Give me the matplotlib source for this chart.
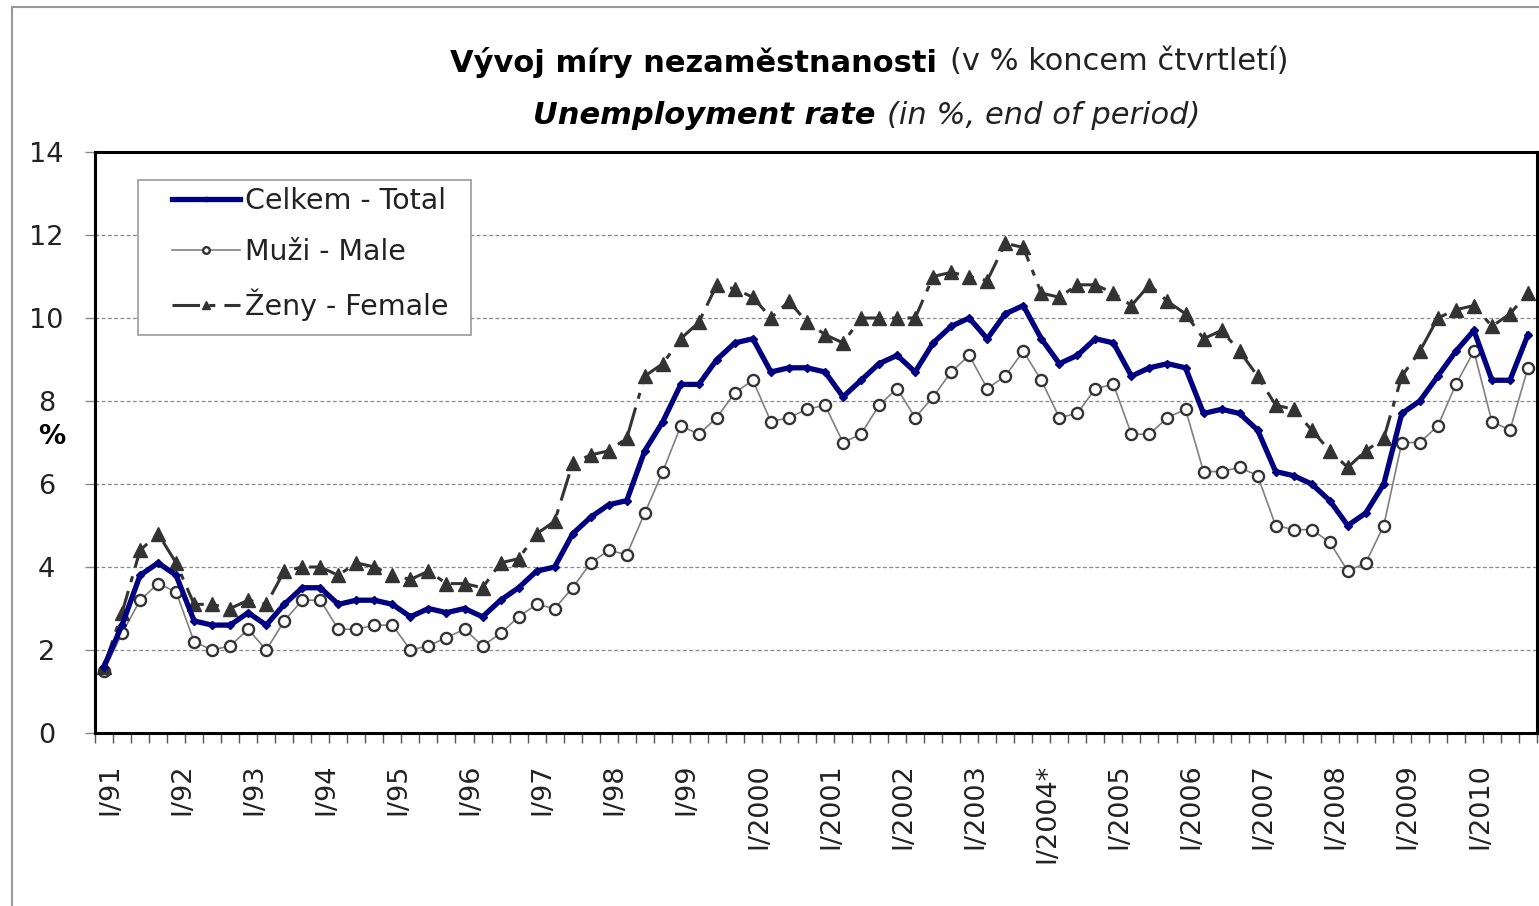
import matplotlib
matplotlib.use("Agg")
import matplotlib.pyplot as plt
from matplotlib.patches import Rectangle
from matplotlib.transforms import ScaledTranslation
import numpy as np

# ctvrtletni data I/91 - IV/2010 (konec obdobi)
years = ["91", "92", "93", "94", "95", "96", "97", "98", "99", "2000",
         "2001", "2002", "2003", "2004*", "2005", "2006", "2007", "2008",
         "2009", "2010"]
quarters = ["I", "II", "III", "IV"]

celkem = [1.6, 2.6, 3.8, 4.1, 3.8, 2.7, 2.6, 2.6, 2.9, 2.6,
          3.1, 3.5, 3.5, 3.1, 3.2, 3.2, 3.1, 2.8, 3.0, 2.9,
          3.0, 2.8, 3.2, 3.5, 3.9, 4.0, 4.8, 5.2, 5.5, 5.6,
          6.8, 7.5, 8.4, 8.4, 9.0, 9.4, 9.5, 8.7, 8.8, 8.8,
          8.7, 8.1, 8.5, 8.9, 9.1, 8.7, 9.4, 9.8, 10.0, 9.5,
          10.1, 10.3, 9.5, 8.9, 9.1, 9.5, 9.4, 8.6, 8.8, 8.9,
          8.8, 7.7, 7.8, 7.7, 7.3, 6.3, 6.2, 6.0, 5.6, 5.0,
          5.3, 6.0, 7.7, 8.0, 8.6, 9.2, 9.7, 8.5, 8.5, 9.6]

muzi = [1.5, 2.4, 3.2, 3.6, 3.4, 2.2, 2.0, 2.1, 2.5, 2.0,
        2.7, 3.2, 3.2, 2.5, 2.5, 2.6, 2.6, 2.0, 2.1, 2.3,
        2.5, 2.1, 2.4, 2.8, 3.1, 3.0, 3.5, 4.1, 4.4, 4.3,
        5.3, 6.3, 7.4, 7.2, 7.6, 8.2, 8.5, 7.5, 7.6, 7.8,
        7.9, 7.0, 7.2, 7.9, 8.3, 7.6, 8.1, 8.7, 9.1, 8.3,
        8.6, 9.2, 8.5, 7.6, 7.7, 8.3, 8.4, 7.2, 7.2, 7.6,
        7.8, 6.3, 6.3, 6.4, 6.2, 5.0, 4.9, 4.9, 4.6, 3.9,
        4.1, 5.0, 7.0, 7.0, 7.4, 8.4, 9.2, 7.5, 7.3, 8.8]

zeny = [1.6, 2.9, 4.4, 4.8, 4.1, 3.1, 3.1, 3.0, 3.2, 3.1,
        3.9, 4.0, 4.0, 3.8, 4.1, 4.0, 3.8, 3.7, 3.9, 3.6,
        3.6, 3.5, 4.1, 4.2, 4.8, 5.1, 6.5, 6.7, 6.8, 7.1,
        8.6, 8.9, 9.5, 9.9, 10.8, 10.7, 10.5, 10.0, 10.4, 9.9,
        9.6, 9.4, 10.0, 10.0, 10.0, 10.0, 11.0, 11.1, 11.0, 10.9,
        11.8, 11.7, 10.6, 10.5, 10.8, 10.8, 10.6, 10.3, 10.8, 10.4,
        10.1, 9.5, 9.7, 9.2, 8.6, 7.9, 7.8, 7.3, 6.8, 6.4,
        6.8, 7.1, 8.6, 9.2, 10.0, 10.2, 10.3, 9.8, 10.1, 10.6]

labels = [q + "/" + y for y in years for q in quarters]
x = np.arange(len(labels))

fig = plt.figure(figsize=(15.39, 9.06), dpi=100)
ax = fig.add_axes([95/1539, 173/906, 1442/1539, 581/906])

ax.plot(x, muzi, color="#808080", lw=1.2, marker="o", markersize=8,
        markerfacecolor="white", markeredgecolor="#333333", markeredgewidth=1.7,
        label="Muži - Male", zorder=3)
ax.plot(x, zeny, color="#333333", lw=2.2, dashes=(9, 3, 2, 3), marker="^",
        markersize=10.5, markerfacecolor="#333333", markeredgecolor="#333333",
        label="Ženy - Female", zorder=4)
ax.plot(x, celkem, color="#000080", lw=3.8, marker="D", markersize=4,
        markerfacecolor="#000080", markeredgecolor="#000080",
        label="Celkem - Total", zorder=5)

ax.set_xlim(-0.5, len(labels) - 0.5)
ax.set_ylim(0, 14)
ax.set_yticks(range(0, 15, 2))
ax.yaxis.grid(True, color="#888888", ls=(0, (3, 2)), lw=0.9)
ax.set_axisbelow(True)

# popisky jen u I. ctvrtleti, carky mezi kategoriemi
ax.set_xticks(x[::4])
ax.set_xticklabels(labels[::4], rotation=90, va="top", ha="center")
ax.set_xticks(np.arange(-0.5, len(labels), 1), minor=True)
ax.tick_params(axis="x", which="major", length=0, pad=22, labelsize=19.5,
               labelcolor="#222222")
ax.tick_params(axis="x", which="minor", length=7, width=1, color="#555555",
               direction="out")
ax.tick_params(axis="y", length=7, width=1, color="#888888", labelsize=19.5,
               labelcolor="#222222", pad=28)
shift = ScaledTranslation(6/100, 0, fig.dpi_scale_trans)
for lab in ax.get_xticklabels():
    lab.set_transform(lab.get_transform() + shift)
for lab in ax.get_yticklabels():
    lab.set_horizontalalignment("center")
for s in ax.spines.values():
    s.set_linewidth(2.2)
    s.set_color("black")

ax.set_ylabel("%", rotation=0, fontsize=19.5, fontweight="bold", va="center")
ax.yaxis.set_label_coords(-0.03, 0.51)

# legenda bez vlastniho ramecku, ramecek kreslen zvlast
handles, labs = ax.get_legend_handles_labels()
order = [2, 0, 1]
leg = ax.legend([handles[i] for i in order], [labs[i] for i in order],
                loc="upper left", bbox_to_anchor=(0.0534, 0.94),
                fontsize=20.5, frameon=False,
                handlelength=2.4, handletextpad=0.15, labelspacing=0.8,
                borderpad=0, borderaxespad=0, markerscale=0.6)
leg.set_zorder(7)
for t in leg.get_texts():
    t.set_color("#222222")
ax.add_patch(Rectangle((0.0298, 0.685), 0.2309, 0.267, transform=ax.transAxes,
                       facecolor="white", edgecolor="#999999", lw=1.2,
                       zorder=6))

# titulek (tucna a normalni cast)
fig.text(937/1539, 1 - 62/906, "Vývoj míry nezaměstnanosti", ha="right",
         va="center", fontsize=22, fontweight="bold")
fig.text(950/1539, 1 - 62/906, "(v % koncem čtvrtletí)", ha="left",
         va="center", fontsize=22, color="#222222")
fig.text(875/1539, 1 - 116/906, "Unemployment rate", ha="right",
         va="center", fontsize=22, fontweight="bold", style="italic")
fig.text(887/1539, 1 - 116/906, "(in %, end of period)", ha="left",
         va="center", fontsize=22, style="italic", color="#222222")

# vnejsi ramecek grafu
fig.patches.append(Rectangle((12/1539, -0.05), 1.0, 1.05 - 7/906,
                             transform=fig.transFigure, fill=False,
                             edgecolor="#999999", lw=1.5))

fig.savefig("out.png", dpi=100)
